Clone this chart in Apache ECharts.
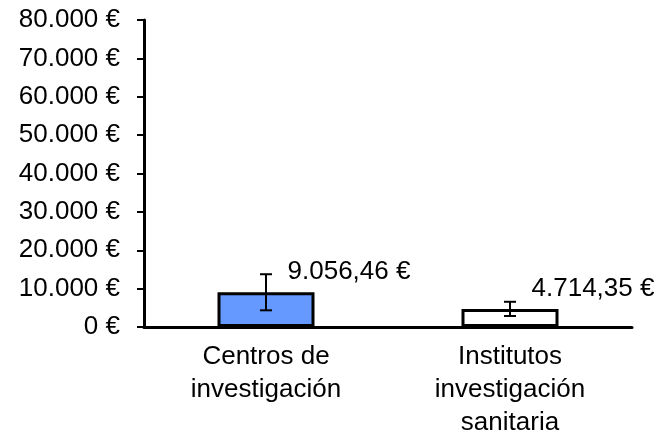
<!DOCTYPE html>
<html>
<head>
<meta charset="utf-8">
<script src="https://cdn.jsdelivr.net/npm/echarts@6/dist/echarts.min.js"></script>
<style>
  html, body { margin: 0; padding: 0; background: #fff; }
</style>
</head>
<body>
<div id="main" style="width:664px;height:439px;"></div>
<script>
// datos
var categorias = ['Centros de\ninvestigación', 'Institutos\ninvestigación\nsanitaria'];
var valores = [9056.46, 4714.35];
var etiquetas = ['9.056,46 €', '4.714,35 €'];
var errBajo = [4350, 2860];
var errAlto = [13750, 6570];
var colores = ['#6699FF', '#FFFFFF'];

var fuente = '"Liberation Sans", Arial, sans-serif';

function miles(v) {
  return String(v).replace(/\B(?=(\d{3})+(?!\d))/g, '.') + ' €';
}

var chart = echarts.init(document.getElementById('main'));

var option = {
  animation: false,
  textStyle: { fontFamily: fuente },
  grid: { left: 144, right: 32, top: 20, bottom: 105, containLabel: false },
  xAxis: {
    type: 'category',
    data: categorias,
    axisLine: { lineStyle: { color: '#000', width: 3 } },
    axisTick: { show: false },
    axisLabel: { color: '#000', fontSize: 26, lineHeight: 33, margin: 13, fontFamily: fuente }
  },
  yAxis: {
    type: 'value',
    min: 0,
    max: 80000,
    interval: 10000,
    splitLine: { show: false },
    axisLine: { show: true, lineStyle: { color: '#000', width: 3 } },
    axisTick: { show: true, length: 7, lineStyle: { color: '#000', width: 2 } },
    axisLabel: { color: '#000', fontSize: 26, margin: 24, fontFamily: fuente, formatter: miles }
  },
  series: [
    {
      type: 'bar',
      barWidth: 97,
      data: valores.map(function (v, i) {
        return {
          value: v,
          itemStyle: { color: colores[i], borderColor: '#000', borderWidth: 3 }
        };
      }),
      label: {
        show: true,
        position: 'top',
        distance: 5,
        offset: [83, -2],
        color: '#000',
        fontSize: 26,
        fontFamily: fuente,
        formatter: function (p) { return etiquetas[p.dataIndex]; }
      },
      z: 2
    },
    {
      // barras de error
      type: 'custom',
      data: errBajo.map(function (b, i) { return [i, b, errAlto[i]]; }),
      renderItem: function (params, api) {
        var lo = api.coord([api.value(0), api.value(1)]);
        var hi = api.coord([api.value(0), api.value(2)]);
        var w = 6;
        var st = { stroke: '#000', lineWidth: 2 };
        return {
          type: 'group',
          children: [
            { type: 'line', shape: { x1: lo[0], y1: lo[1], x2: hi[0], y2: hi[1] }, style: st },
            { type: 'line', shape: { x1: hi[0] - w, y1: hi[1], x2: hi[0] + w, y2: hi[1] }, style: st },
            { type: 'line', shape: { x1: lo[0] - w, y1: lo[1], x2: lo[0] + w, y2: lo[1] }, style: st }
          ]
        };
      },
      z: 5
    }
  ]
};

chart.setOption(option);
</script>
</body>
</html>
